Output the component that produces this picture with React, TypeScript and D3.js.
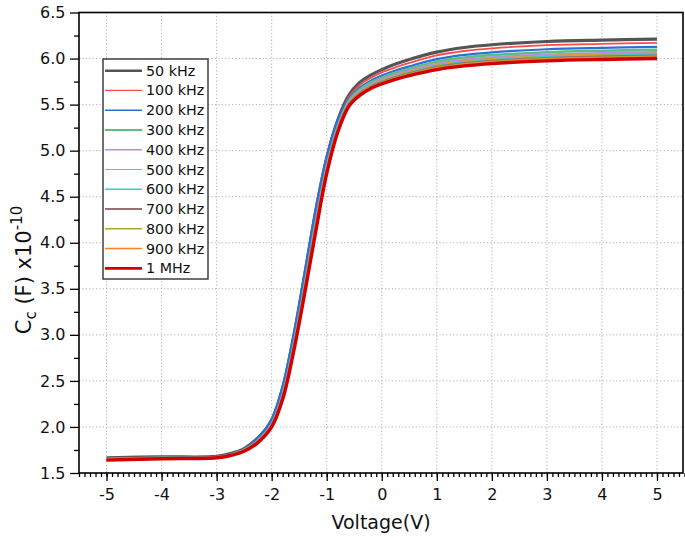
import * as d3 from "d3";
import { useEffect, useRef } from "react";

const voltage = [-5, -4, -3, -2.75, -2.5, -2.25, -2, -1.8, -1.6, -1.4, -1.2, -1.0, -0.8, -0.6, -0.4, -0.2, 0, 0.25, 0.5, 1, 1.5, 2, 3, 4, 5];

const c50k = [1.665, 1.675, 1.68, 1.71, 1.765, 1.88, 2.07, 2.42, 2.98, 3.65, 4.34, 4.92, 5.33, 5.6, 5.74, 5.82, 5.88, 5.94, 5.99, 6.07, 6.12, 6.15, 6.185, 6.2, 6.21];
const c100k = [1.66, 1.671, 1.677, 1.706, 1.76, 1.87, 2.057, 2.397, 2.95, 3.612, 4.298, 4.888, 5.305, 5.58, 5.713, 5.79, 5.85, 5.905, 5.952, 6.034, 6.082, 6.111, 6.145, 6.16, 6.17];
const c200k = [1.655, 1.667, 1.674, 1.702, 1.755, 1.88, 2.09, 2.45, 3.01, 3.68, 4.37, 4.94, 5.33, 5.56, 5.684, 5.76, 5.815, 5.87, 5.915, 5.994, 6.04, 6.068, 6.101, 6.116, 6.126];
const c300k = [1.651, 1.664, 1.672, 1.699, 1.75, 1.852, 2.03, 2.354, 2.892, 3.54, 4.219, 4.826, 5.26, 5.54, 5.663, 5.74, 5.792, 5.845, 5.889, 5.965, 6.01, 6.037, 6.069, 6.084, 6.094];
const c400k = [1.648, 1.662, 1.67, 1.697, 1.747, 1.846, 2.02, 2.34, 2.873, 3.516, 4.193, 4.806, 5.245, 5.525, 5.646, 5.72, 5.775, 5.826, 5.869, 5.943, 5.986, 6.013, 6.044, 6.059, 6.069];
const c500k = [1.647, 1.66, 1.669, 1.695, 1.745, 1.843, 2.015, 2.331, 2.862, 3.502, 4.177, 4.794, 5.236, 5.515, 5.636, 5.71, 5.763, 5.815, 5.857, 5.929, 5.972, 5.998, 6.03, 6.045, 6.055];
const c600k = [1.645, 1.659, 1.668, 1.694, 1.743, 1.84, 2.01, 2.323, 2.85, 3.488, 4.162, 4.782, 5.227, 5.505, 5.627, 5.7, 5.752, 5.803, 5.845, 5.916, 5.958, 5.984, 6.015, 6.03, 6.04];
const c700k = [1.644, 1.658, 1.667, 1.693, 1.741, 1.837, 2.007, 2.317, 2.842, 3.478, 4.151, 4.774, 5.22, 5.498, 5.62, 5.693, 5.745, 5.795, 5.837, 5.907, 5.948, 5.974, 6.004, 6.019, 6.029];
const c800k = [1.643, 1.657, 1.667, 1.692, 1.74, 1.835, 2.004, 2.312, 2.836, 3.47, 4.142, 4.767, 5.215, 5.492, 5.614, 5.687, 5.739, 5.789, 5.83, 5.899, 5.94, 5.965, 5.996, 6.011, 6.021];
const c900k = [1.642, 1.656, 1.666, 1.691, 1.739, 1.834, 2.002, 2.308, 2.831, 3.464, 4.135, 4.762, 5.21, 5.488, 5.61, 5.683, 5.734, 5.784, 5.825, 5.893, 5.934, 5.959, 5.99, 6.005, 6.015];
const c1M = [1.64, 1.655, 1.665, 1.69, 1.737, 1.83, 2.0, 2.3, 2.82, 3.45, 4.12, 4.75, 5.2, 5.48, 5.6, 5.675, 5.725, 5.775, 5.815, 5.88, 5.92, 5.945, 5.975, 5.99, 6.0];

const seriesNames = ["50 kHz", "100 kHz", "200 kHz", "300 kHz", "400 kHz", "500 kHz", "600 kHz", "700 kHz", "800 kHz", "900 kHz", "1 MHz"];
const seriesValues = [c50k, c100k, c200k, c300k, c400k, c500k, c600k, c700k, c800k, c900k, c1M];
const colors = ["#555555", "#ff4a4a", "#2d6fd6", "#5cbf80", "#b48ce6", "#d4a030", "#33cfcf", "#9a7070", "#a9a830", "#ff7f24", "#d40000"];
const widths = [2.6, 1.2, 1.6, 2, 1.6, 1.2, 1.6, 2, 1.6, 1.4, 2.8];

const xTicks = [-5, -4, -3, -2, -1, 0, 1, 2, 3, 4, 5];
const yTicks = [1.5, 2.0, 2.5, 3.0, 3.5, 4.0, 4.5, 5.0, 5.5, 6.0, 6.5];

export default function App() {
  const ref = useRef<SVGSVGElement>(null);

  const width = 685;
  const height = 538;
  const left = 79, right = 683, top = 12.5, bottom = 473;

  useEffect(() => {
    const svg = d3.select(ref.current);
    svg.selectAll("*").remove();

    const x = d3.scaleLinear().domain([-5.5, 5.5]).range([left, right + 1.5]);
    const y = d3.scaleLinear().domain([1.5, 6.5]).range([bottom, top]);

    const font = "'DejaVu Sans', Arial, sans-serif";

    // grid
    const grid = svg.append("g").attr("stroke", "#b0b0b0").attr("stroke-dasharray", "1.2,2.2").attr("stroke-width", 1);
    grid.selectAll("line.v").data(xTicks).join("line")
      .attr("x1", d => x(d)).attr("x2", d => x(d)).attr("y1", top).attr("y2", bottom);
    grid.selectAll("line.h").data(yTicks.slice(1, -1)).join("line")
      .attr("x1", left).attr("x2", right).attr("y1", d => y(d)).attr("y2", d => y(d));

    // curves
    const line = d3.line<[number, number]>()
      .x(d => x(d[0]))
      .y(d => y(d[1]))
      .curve(d3.curveCatmullRom.alpha(0.5));

    svg.append("g").selectAll("path").data(seriesValues).join("path")
      .attr("fill", "none")
      .attr("stroke", (_, i) => colors[i])
      .attr("stroke-width", (_, i) => widths[i] + 0.6)
      .attr("d", vals => line(voltage.map((v, i) => [v, vals[i]] as [number, number])));

    // axes
    const xAxis = svg.append("g").attr("transform", `translate(0,${bottom})`)
      .call(d3.axisBottom(x).tickValues(xTicks).tickSize(8).tickFormat(d => String(d)));
    const xMinor = svg.append("g").attr("transform", `translate(0,${bottom})`)
      .call(d3.axisBottom(x).tickValues(d3.range(-55, 56).map(d => d / 10)).tickSize(4).tickFormat(() => ""));
    const yAxis = svg.append("g").attr("transform", `translate(${left},0)`)
      .call(d3.axisLeft(y).tickValues(yTicks).tickSize(9).tickFormat(d3.format(".1f")));
    const yMinor = svg.append("g").attr("transform", `translate(${left},0)`)
      .call(d3.axisLeft(y).tickValues(d3.range(1.75, 6.5, 0.5)).tickSize(5).tickFormat(() => ""));

    [xAxis, xMinor, yAxis, yMinor].forEach(g => {
      g.select(".domain").remove();
      g.selectAll("line").attr("stroke", "#000").attr("stroke-width", 1.3);
      g.selectAll("text").attr("font-family", font).attr("font-size", 16).attr("fill", "#111");
    });
    xAxis.selectAll("text").attr("dy", "1.0em");
    yAxis.selectAll("text").attr("dx", "-0.1em");

    // frame
    svg.append("rect")
      .attr("x", left).attr("y", top).attr("width", right - left).attr("height", bottom - top)
      .attr("fill", "none").attr("stroke", "#000").attr("stroke-width", 1.6);

    // titles
    svg.append("text")
      .attr("x", (left + right) / 2).attr("y", 529)
      .attr("text-anchor", "middle").attr("font-family", font).attr("font-size", 19).attr("fill", "#111")
      .text("Voltage(V)");

    const yt = svg.append("text")
      .attr("transform", "translate(31,270) rotate(-90)")
      .attr("text-anchor", "middle").attr("font-family", font).attr("font-size", 21).attr("fill", "#111");
    yt.append("tspan").text("C");
    yt.append("tspan").attr("font-size", 15).attr("dy", 5).text("c");
    yt.append("tspan").attr("dy", -5).text(" (F) x10");
    yt.append("tspan").attr("font-size", 15).attr("dy", -9).text("-10");

    // legend
    const lg = svg.append("g");
    lg.append("rect")
      .attr("x", 103).attr("y", 59).attr("width", 105).attr("height", 220)
      .attr("fill", "#fff").attr("stroke", "#333").attr("stroke-width", 1.4);
    const items = lg.selectAll("g").data(seriesNames).join("g")
      .attr("transform", (_, i) => `translate(0,${70.7 + i * 19.76})`);
    items.append("line")
      .attr("x1", 105).attr("x2", 142).attr("y1", 0).attr("y2", 0)
      .attr("stroke", (_, i) => colors[i]).attr("stroke-width", (_, i) => widths[i]);
    items.append("text")
      .attr("x", 146).attr("y", 5)
      .attr("font-family", font).attr("font-size", 14.3).attr("fill", "#111")
      .text(d => d);
  }, []);

  return (
    <svg ref={ref} width={width} height={height}
      style={{ position: "absolute", left: 0, top: 0, background: "#fff" }} />
  );
}
